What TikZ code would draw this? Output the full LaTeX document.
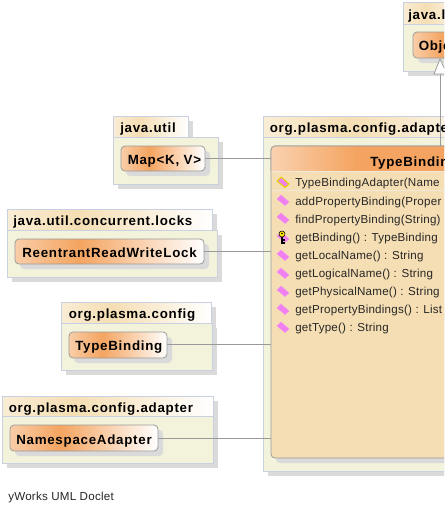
\documentclass[tikz,border=0pt]{standalone}
\usepackage{fontspec}
\setmainfont{Liberation Sans}
\newfontfamily\boxbold[LetterSpace=5.5]{Liberation Sans Bold}
\newfontfamily\rowreg[LetterSpace=2]{Liberation Sans}
\definecolor{pkgline}{HTML}{C8D0E2}
\definecolor{pkgbody}{HTML}{F3F3DC}
\definecolor{shadowc}{HTML}{DADADA}
\definecolor{nodeline}{HTML}{9A9A9A}
\definecolor{wheatc}{HTML}{F5DEB3}
\definecolor{sandy}{HTML}{F4A460}
\definecolor{rowline}{HTML}{F0E8D8}
\definecolor{pinkc}{HTML}{F080F0}
\pgfdeclarehorizontalshading{nodegrad}{100bp}{color(0bp)=(sandy!55!white); color(25bp)=(sandy!55!white); color(42bp)=(sandy); color(75bp)=(white); color(100bp)=(white)}
\pgfdeclarehorizontalshading{tabgrad}{100bp}{color(0bp)=(wheatc!55!white); color(25bp)=(wheatc!55!white); color(42bp)=(wheatc); color(75bp)=(white); color(100bp)=(white)}
\pgfdeclarehorizontalshading{headgrad}{100bp}{color(0bp)=(sandy!50!white); color(25bp)=(sandy!50!white); color(42bp)=(sandy); color(100bp)=(sandy)}
\tikzset{
  x=0.75pt,y=-0.75pt,
  shadowbox/.style={fill=shadowc,draw=none},
  pkgbox/.style={fill=pkgbody,draw=pkgline,line width=0.6pt},
  pkgtab/.style={shading=tabgrad,draw=pkgline,line width=0.6pt},
  pkgtext/.style={font=\boxbold\fontsize{10}{12}\selectfont,anchor=base west,inner sep=0pt},
  clstext/.style={font=\boxbold\fontsize{10}{12}\selectfont,anchor=base west,inner sep=0pt},
  clsnode/.style={shading=nodegrad,draw=nodeline,line width=0.6pt,rounded corners=3pt},
  rowtext/.style={font=\rowreg\fontsize{8.7}{10}\selectfont,anchor=base west,inner sep=0pt,text=black!85},
  conn/.style={draw=nodeline,line width=0.6pt},
  method/.style={fill=pinkc,draw=pinkc!85!white,line width=0.3pt},
  ctor/.style={fill=pinkc,draw=yellow!75!olive,line width=0.8pt},
}
\newcommand{\pkgshape}[6]{% x1 x2tab x2body y1 ytab ybottom
  \fill[shadowbox] (#1+5,#4+5) rectangle (#2+5,#5+5);
  \fill[shadowbox] (#1+5,#5+5) rectangle (#3+5,#6+5);
  \path[pkgtab] (#1,#4) rectangle (#2,#5);
  \path[pkgbox] (#1,#5) rectangle (#3,#6);
}
\newcommand{\classshape}[5]{% name x1 x2 y1 y2
  \fill[shadowbox,rounded corners=3pt] (#2+5,#4+5) rectangle (#3+5,#5+5);
  \path[clsnode] (#2,#4) rectangle (#3,#5);
}
\newcommand{\micon}[2]{\path[#2] (#1) ++(-6,-1) -- ++(4,-4) -- ++(8,7) -- ++(-4,3.5) -- cycle;}
\begin{document}
\begin{tikzpicture}
\useasboundingbox (0,0) rectangle (444,514);
\fill[white] (0,0) rectangle (444,514);
\begin{scope}
\clip (0,0) rectangle (444,514);
% java.lang
\pkgshape{403}{470}{470}{2}{24}{71}
\classshape{obj}{413}{500}{32}{58}
\node[clstext] (objt) at (418.5,50) {Obje};
\node[pkgtext] (lang) at (408,19) {java.l};
% main package
\pkgshape{263}{520}{520}{116}{137}{471}
\node[pkgtext] (maint) at (269.5,132) {org.plasma.config.adapte};
\fill[shadowbox,rounded corners=3pt] (276,151) rectangle (520,463);
\path[fill=wheatc,draw=nodeline,line width=0.6pt,rounded corners=3pt] (271,146) rectangle (520,458);
\path[shading=headgrad] (271.4,146.4) -- (520,146.4) -- (520,171) -- (271.4,171) -- cycle;
\draw[rowline,line width=0.5pt] (272,171.5) -- (444,171.5);
\draw[rowline,line width=0.5pt] (272,190.5) -- (444,190.5);
\draw[nodeline,line width=0.6pt,rounded corners=3pt] (271,171) -- (271,146) -- (520,146);
\node[clstext] (ct) at (370,166) {TypeBindin};
% others
\pkgshape{113}{188}{218}{116}{137}{184}
\classshape{m}{121}{205}{146}{171}
\pkgshape{7}{212}{217}{209}{230}{277}
\classshape{l}{15}{204}{239}{264}
\pkgshape{61}{211}{212}{302}{323}{370}
\classshape{t}{69}{167}{332}{358}
\pkgshape{2}{213}{213}{396}{416}{463}
\classshape{n}{10}{158}{425}{451}
\node[pkgtext] (p1) at (120,132) {java.util};
\node[clstext] (map) at (127.5,164) {Map<K, V>};
\node[pkgtext] (p2) at (13,225) {java.util.concurrent.locks};
\node[clstext] (lock) at (22,257) {ReentrantReadWriteLock};
\node[pkgtext] (p3) at (68.5,318) {org.plasma.config};
\node[clstext] (tb) at (75,350) {TypeBinding};
\node[pkgtext] (p4) at (8.5,412) {org.plasma.config.adapter};
\node[clstext] (na) at (16,444) {NamespaceAdapter};
% anchors
\coordinate (mapE) at (205,158);
\coordinate (lockE) at (204,251);
\coordinate (tbE) at (167,344);
\coordinate (naE) at (158,438);
\coordinate (mapW) at (271,158);
\coordinate (lockW) at (271,251);
\coordinate (tbW) at (271,344);
\coordinate (naW) at (271,438);
\coordinate (clsT) at (440,146);
\coordinate (objB) at (440,74);
\draw[conn] (mapE) -- (mapW);
\draw[conn] (lockE) -- (lockW);
\draw[conn] (tbE) -- (tbW);
\draw[conn] (naE) -- (naW);
\draw[conn] (clsT) -- (objB);
\path[fill=white,draw=nodeline,line width=0.6pt] (440,59) -- (447,74) -- (434,74) -- cycle;
% rows
\micon{283,182}{ctor}
\foreach \yy in {200,218,237,255,273,291,309,327}{\micon{283,\yy}{method}}
\node[rowtext] (r1) at (295,186) {TypeBindingAdapter(Name};
\node[rowtext] (r2) at (295,205) {addPropertyBinding(Proper};
\node[rowtext] (r3) at (295,223) {findPropertyBinding(String)};
\node[rowtext] (r4) at (295,241) {getBinding() : TypeBinding};
\node[rowtext] (r5) at (295,259) {getLocalName() : String};
\node[rowtext] (r6) at (295,277) {getLogicalName() : String};
\node[rowtext] (r7) at (295,295) {getPhysicalName() : String};
\node[rowtext] (r8) at (295,313) {getPropertyBindings() : List};
\node[rowtext] (r9) at (295,331) {getType() : String};
\fill[yellow!90!orange,draw=black,line width=0.4pt] (282,234) circle (3);
\fill[black] (282,233.5) circle (0.8);
\draw[black,line width=1.3pt] (282,237) -- (282,244);
\draw[black,line width=0.8pt] (282,240) -- (285,240) (282,243) -- (285,243);
\end{scope}
\node[font=\rowreg\fontsize{8.7}{10}\selectfont,anchor=base west,inner sep=0pt,text=black!85] (foot) at (8,500) {yWorks UML Doclet};
\end{tikzpicture}
\end{document}
